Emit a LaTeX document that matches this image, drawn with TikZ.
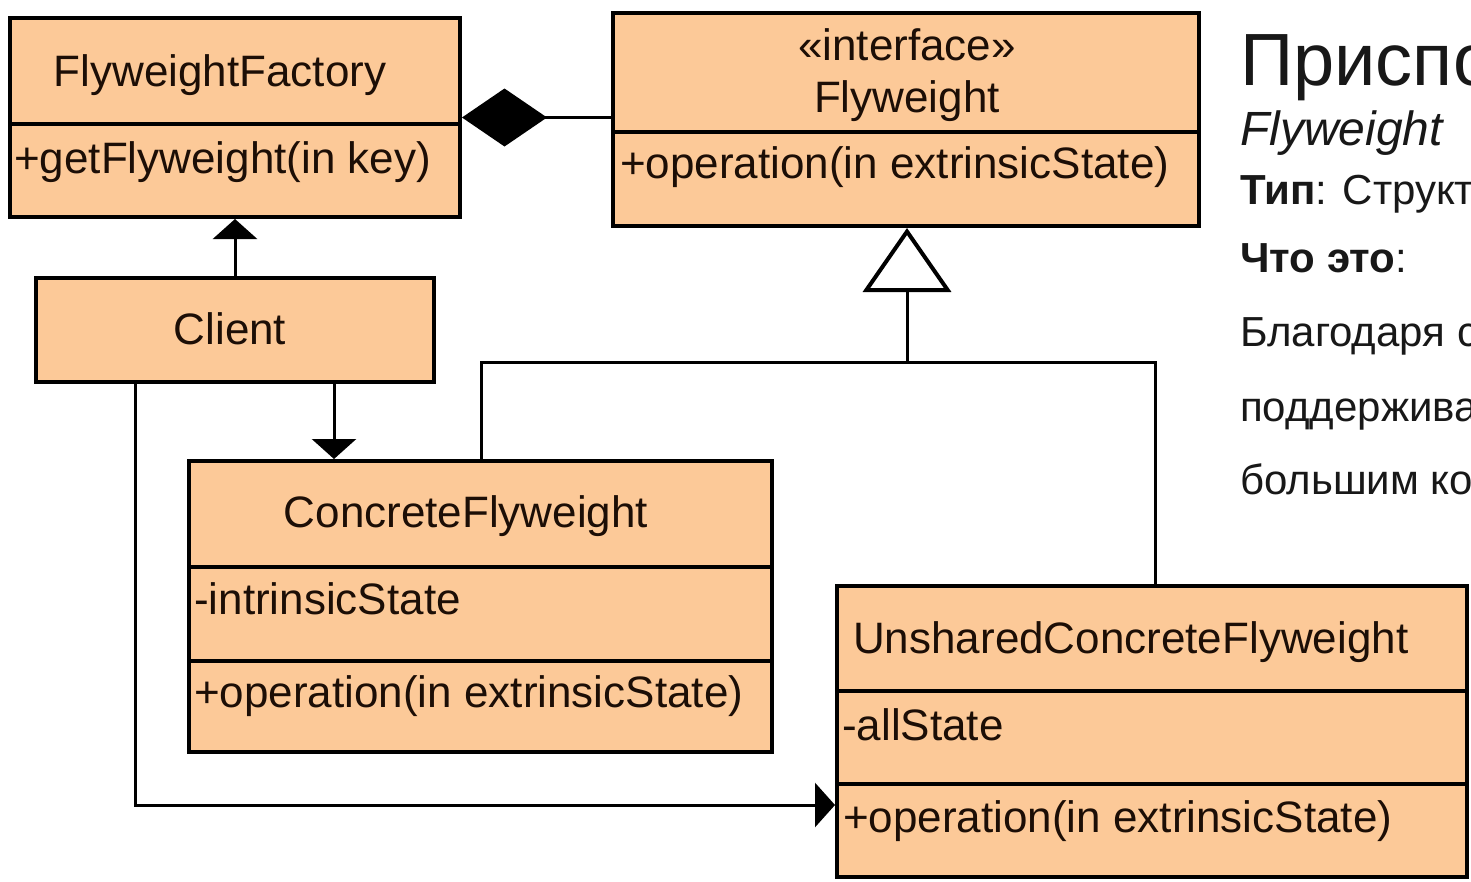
\documentclass[tikz,border=0pt]{standalone}
\usepackage{fontspec}
\setmainfont{Liberation Sans}
\usetikzlibrary{arrows.meta}
\definecolor{umlfill}{RGB}{252,201,152}
\definecolor{umlink}{RGB}{28,14,6}
\definecolor{bodyink}{RGB}{24,24,24}

\begin{document}
\begin{tikzpicture}[x=1pt,y=-1pt,
  classbox/.style={draw=black, line width=4pt, fill=umlfill, inner sep=0pt},
  divider/.style={line width=4pt},
  umltxt/.style={font=\fontsize{44}{50}\selectfont, text=umlink, inner sep=0pt},
  conn/.style={line width=3pt},
  assoc/.style={conn, -{Triangle[length=20pt, width=44pt]}},
  inherit/.style={conn, -{Triangle[open, length=64pt, width=88pt, line width=4pt, fill=white]}},
  compose/.style={conn, -{Diamond[length=85pt, width=58pt]}},
  bodytxt/.style={font=\fontsize{42}{48}\selectfont, text=bodyink, inner sep=0pt, anchor=base west}
]
\clip (0,0) rectangle (1471,881);
\fill[white] (0,0) rectangle (1471,881);

% class boxes
\node[classbox, minimum width=450pt, minimum height=199pt] (ff) at (235,117.5) {};
\node[classbox, minimum width=586pt, minimum height=213pt] (fw) at (906,119.5) {};
\node[classbox, minimum width=398pt, minimum height=104pt] (cl) at (235,330) {};
\node[classbox, minimum width=583pt, minimum height=291pt] (cf) at (480.5,606.5) {};
\node[classbox, minimum width=630pt, minimum height=291pt] (uc) at (1152,731.5) {};

% compartment separators
\draw[divider] (10,124) -- (460,124);
\draw[divider] (613,132) -- (1199,132);
\draw[divider] (189,567) -- (772,567);
\draw[divider] (189,661) -- (772,661);
\draw[divider] (837,691) -- (1467,691);
\draw[divider] (837,784) -- (1467,784);

% class texts
\node[umltxt, anchor=base] (ffname) at (220,86) {FlyweightFactory};
\node[umltxt, anchor=base west] (ffop) at (14,173) {+getFlyweight(in key)};
\node[umltxt, anchor=base] (fwst) at (907,60) {«interface»};
\node[umltxt, anchor=base] (fwname) at (907,112) {Flyweight};
\node[umltxt, anchor=base west] (fwop) at (620,178) {+operation(in extrinsicState)};
\node[umltxt, anchor=base] (clname) at (230,344) {Client};
\node[umltxt, anchor=base] (cfname) at (466,527) {ConcreteFlyweight};
\node[umltxt, anchor=base west] (cfattr) at (194,614) {-intrinsicState};
\node[umltxt, anchor=base west] (cfop) at (194,707) {+operation(in extrinsicState)};
\node[umltxt, anchor=base west] (ucname) at (853,653) {UnsharedConcreteFlyweight};
\node[umltxt, anchor=base west] (ucattr) at (842,740) {-allState};
\node[umltxt, anchor=base west] (ucop) at (843,832) {+operation(in extrinsicState)};

% composition: factory holds flyweights
\draw[compose] (fw.west |- ff.east) -- (ff.east);

% client associations
\draw[assoc] (cl.north) -- (cl.north |- ff.south);
\draw[assoc] ([xshift=99pt]cl.south) -- ([xshift=99pt]cl.south |- cf.north);
\draw[assoc] ([xshift=-100pt]cl.south) |- ([yshift=-73.5pt]uc.west);

% realisation of the Flyweight interface
\coordinate (busL) at (481,362);
\coordinate (busM) at (907,362);
\coordinate (busR) at (1155,362);
\draw[conn] (cf.north -| busL) -- (busL) -- (busR) -- (uc.north -| busR);
\draw[inherit] (busM) -- (busM |- fw.south);

% pattern description
\node[anchor=base west, font=\fontsize{74}{80}\selectfont, text=bodyink, inner sep=0pt] (title) at (1240,85) {Приспособленец};
\node[anchor=base west, font=\fontsize{48}{54}\selectfont\itshape, text=bodyink, inner sep=0pt] (engname) at (1240,145) {Flyweight};
\node[bodytxt] (kind) at (1240,204) {\textbf{Тип}: Структурный};
\node[bodytxt] (what) at (1240,272) {\textbf{Что это}:};
\node[bodytxt] (line1) at (1240,346) {Благодаря совместному};
\node[bodytxt] (line2) at (1240,421) {поддерживает эффективную};
\node[bodytxt] (line3) at (1240,494) {большим количеством};
\end{tikzpicture}
\end{document}
